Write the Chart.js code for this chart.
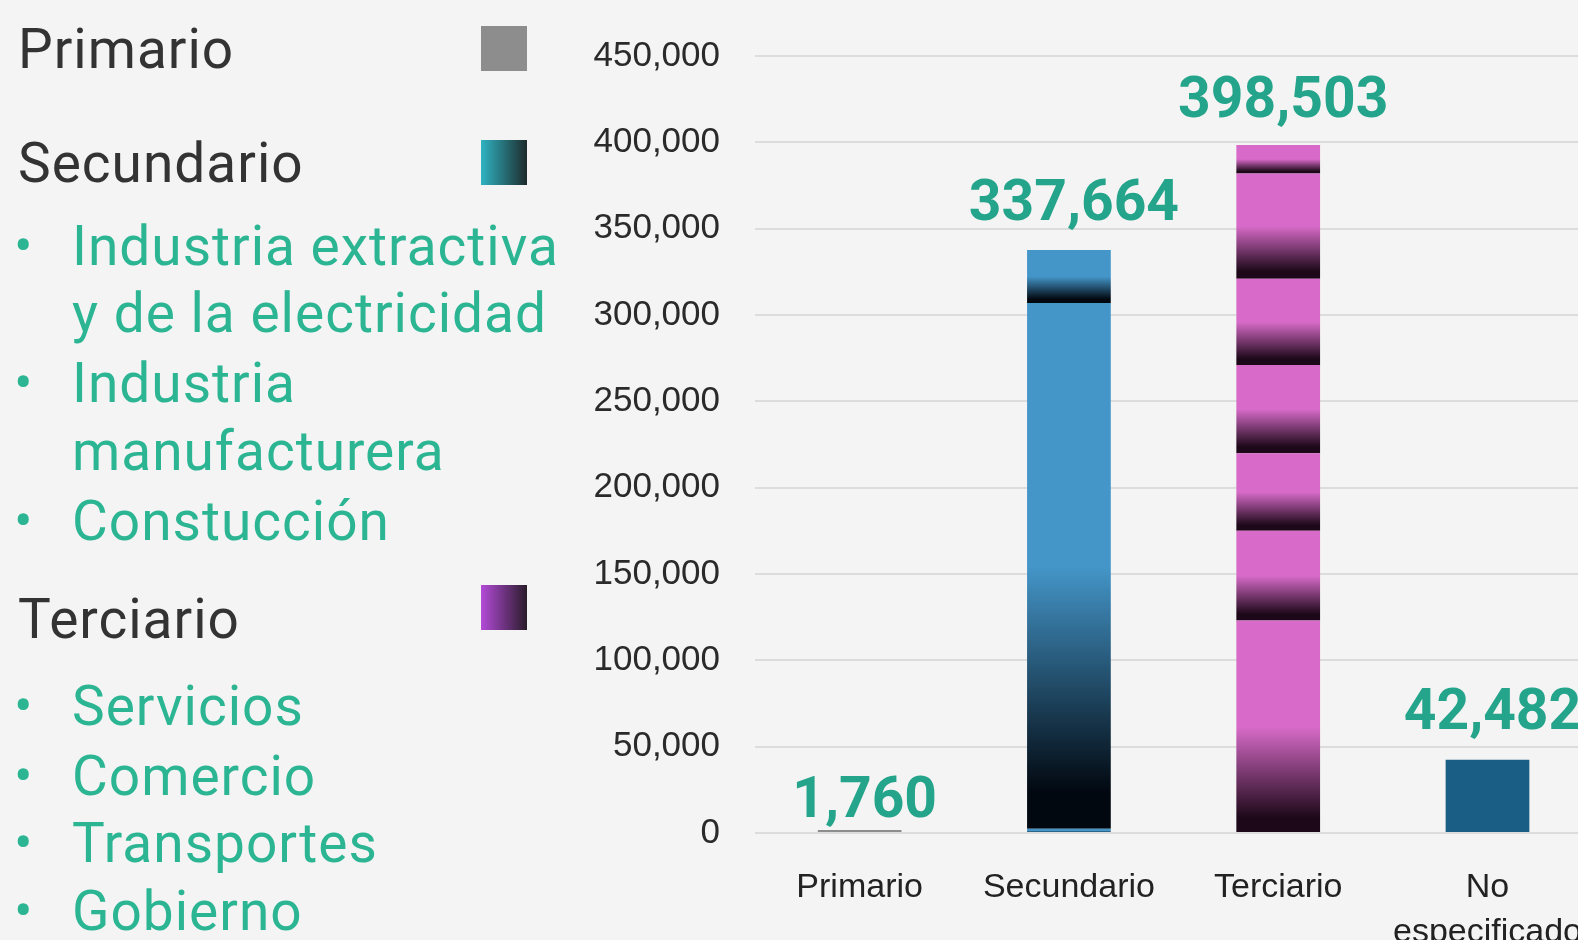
<!DOCTYPE html>
<html>
<head>
<meta charset="utf-8">
<script src="https://cdn.jsdelivr.net/npm/chart.js@4.4.0/dist/chart.umd.min.js"></script>
<style>
  html, body { margin: 0; padding: 0; }
  body {
    width: 1578px; height: 940px; overflow: hidden; position: relative;
    background: #f4f4f4; font-family: Roboto, sans-serif;
  }
  .leg { position: absolute; font-size: 55px; line-height: 55px; letter-spacing: 1px; white-space: nowrap; }
  .head { color: #333; left: 18px; }
  .sub { color: #2cb593; left: 72px; }
  .dot { position: absolute; left: 14px; color: #2cb593; font-size: 55px; line-height: 55px; }
  .sw { position: absolute; left: 481px; width: 46px; height: 45px; }
  #wrap { position: absolute; left: 565px; top: 0; width: 1042px; height: 1000px; }
</style>
</head>
<body>

<div class="leg head" style="top:22px;">Primario</div>
<div class="sw" style="top:26px; background:#8d8d8d;"></div>

<div class="leg head" style="top:136px;">Secundario</div>
<div class="sw" style="top:140px; background:linear-gradient(to right,#2fb3c2,#1d2b2c);"></div>
<div class="dot" style="top:219px;">•</div>
<div class="leg sub" style="top:219px;">Industria extractiva</div>
<div class="leg sub" style="top:286px;">y de la electricidad</div>
<div class="dot" style="top:356px;">•</div>
<div class="leg sub" style="top:356px;">Industria</div>
<div class="leg sub" style="top:424px;">manufacturera</div>
<div class="dot" style="top:494px;">•</div>
<div class="leg sub" style="top:494px;">Constucción</div>

<div class="leg head" style="top:592px;">Terciario</div>
<div class="sw" style="top:585px; background:linear-gradient(to right,#b34ad8,#2a1c2a);"></div>
<div class="dot" style="top:679px;">•</div>
<div class="leg sub" style="top:679px;">Servicios</div>
<div class="dot" style="top:749px;">•</div>
<div class="leg sub" style="top:749px;">Comercio</div>
<div class="dot" style="top:816px;">•</div>
<div class="leg sub" style="top:816px;">Transportes</div>
<div class="dot" style="top:884px;">•</div>
<div class="leg sub" style="top:884px;">Gobierno</div>

<div id="wrap"><canvas id="sectorChart"></canvas></div>

<script>
// data
const categories = ['Primario', 'Secundario', 'Terciario', ['No', 'especificado']];
const primario = [1760];
const secundarioNames = ['Industria extractiva y de la electricidad', 'Industria manufacturera', 'Constucción'];
const secundario = [2500, 304500, 30664];
const terciarioNames = ['Servicios', 'Comercio', 'Transportes', 'Gobierno', 'Terciario 5', 'Terciario 6', 'Terciario 7'];
const terciario = [123000, 52000, 45000, 51000, 50000, 61000, 16503];
const noEspecificado = [42482];
const yTicks = { min: 0, max: 450000, step: 50000 };

// gap between a total label and the top of its bar
const labelGap = [13, 30, 28, 31];

// each stacked segment fades to black at its lower end
function segmentGradient(color, dark) {
    return (ctx) => {
        const chart = ctx.chart;
        const y = chart.scales.y;
        if (!y || ctx.type !== 'data' || !ctx.raw) return color;
        const i = ctx.dataIndex;
        let start = 0;
        for (let d = 0; d < ctx.datasetIndex; d++) {
            start += chart.data.datasets[d].data[i] || 0;
        }
        const top = y.getPixelForValue(start + ctx.raw);
        const bottom = y.getPixelForValue(start);
        if (!isFinite(top) || !isFinite(bottom) || top === bottom) return color;
        const g = chart.ctx.createLinearGradient(0, top, 0, bottom);
        g.addColorStop(0, color);
        g.addColorStop(0.5, color);
        g.addColorStop(0.93, dark);
        g.addColorStop(1, dark);
        return g;
    };
}

const datasets = [];
datasets.push({ label: 'Primario', data: [primario[0], null, null, null], backgroundColor: '#8d8d8d' });
secundario.forEach((v, k) => {
    datasets.push({ label: secundarioNames[k], data: [null, v, null, null],
        backgroundColor: segmentGradient('#4496c9', '#020810') });
});
terciario.forEach((v, k) => {
    datasets.push({ label: terciarioNames[k], data: [null, null, v, null],
        backgroundColor: segmentGradient('#d86bc9', '#1c0818') });
});
datasets.push({ label: 'No especificado', data: [null, null, null, noEspecificado[0]], backgroundColor: '#1a5e86' });

const totals = [
    primario.reduce((a, b) => a + b, 0),
    secundario.reduce((a, b) => a + b, 0),
    terciario.reduce((a, b) => a + b, 0),
    noEspecificado.reduce((a, b) => a + b, 0)
];

const totalLabels = {
    id: 'totalLabels',
    afterDatasetsDraw(chart) {
        const c = chart.ctx;
        const x = chart.scales.x, y = chart.scales.y;
        c.save();
        c.font = '700 57px Roboto';
        c.fillStyle = '#24a48a';
        c.textAlign = 'center';
        c.textBaseline = 'alphabetic';
        totals.forEach((t, i) => {
            c.fillText(t.toLocaleString('en-US'), x.getPixelForValue(i) + 5, y.getPixelForValue(t) - labelGap[i]);
        });
        c.restore();
    }
};

new Chart(document.getElementById('sectorChart').getContext('2d'), {
    type: 'bar',
    data: { labels: categories, datasets: datasets },
    options: {
        responsive: true,
        maintainAspectRatio: false,
        animation: false,
        locale: 'en-US',
        layout: { padding: { top: 56, right: 0, left: 0, bottom: 0 } },
        plugins: { legend: { display: false }, tooltip: { enabled: false } },
        datasets: { bar: { categoryPercentage: 1, barPercentage: 0.4, borderWidth: 0 } },
        scales: {
            x: {
                stacked: true,
                grid: { display: false },
                border: { display: false },
                ticks: {
                    color: '#222',
                    padding: 25,
                    autoSkip: false,
                    maxRotation: 0,
                    minRotation: 0,
                    font: { family: "'Liberation Sans Narrow', 'Liberation Sans', sans-serif", size: 34, lineHeight: 1.3 }
                },
                afterFit: (scale) => { scale.height = 167; }
            },
            y: {
                stacked: true,
                min: yTicks.min,
                max: yTicks.max,
                grid: { color: '#dcdcdc', lineWidth: 2, drawTicks: false },
                border: { display: false },
                ticks: {
                    stepSize: yTicks.step,
                    color: '#2a2a2a',
                    padding: 35,
                    font: { family: "'Liberation Sans', Arial, sans-serif", size: 35 }
                },
                afterFit: (scale) => { scale.width = 190; }
            }
        }
    },
    plugins: [totalLabels]
});
</script>
</body>
</html>
